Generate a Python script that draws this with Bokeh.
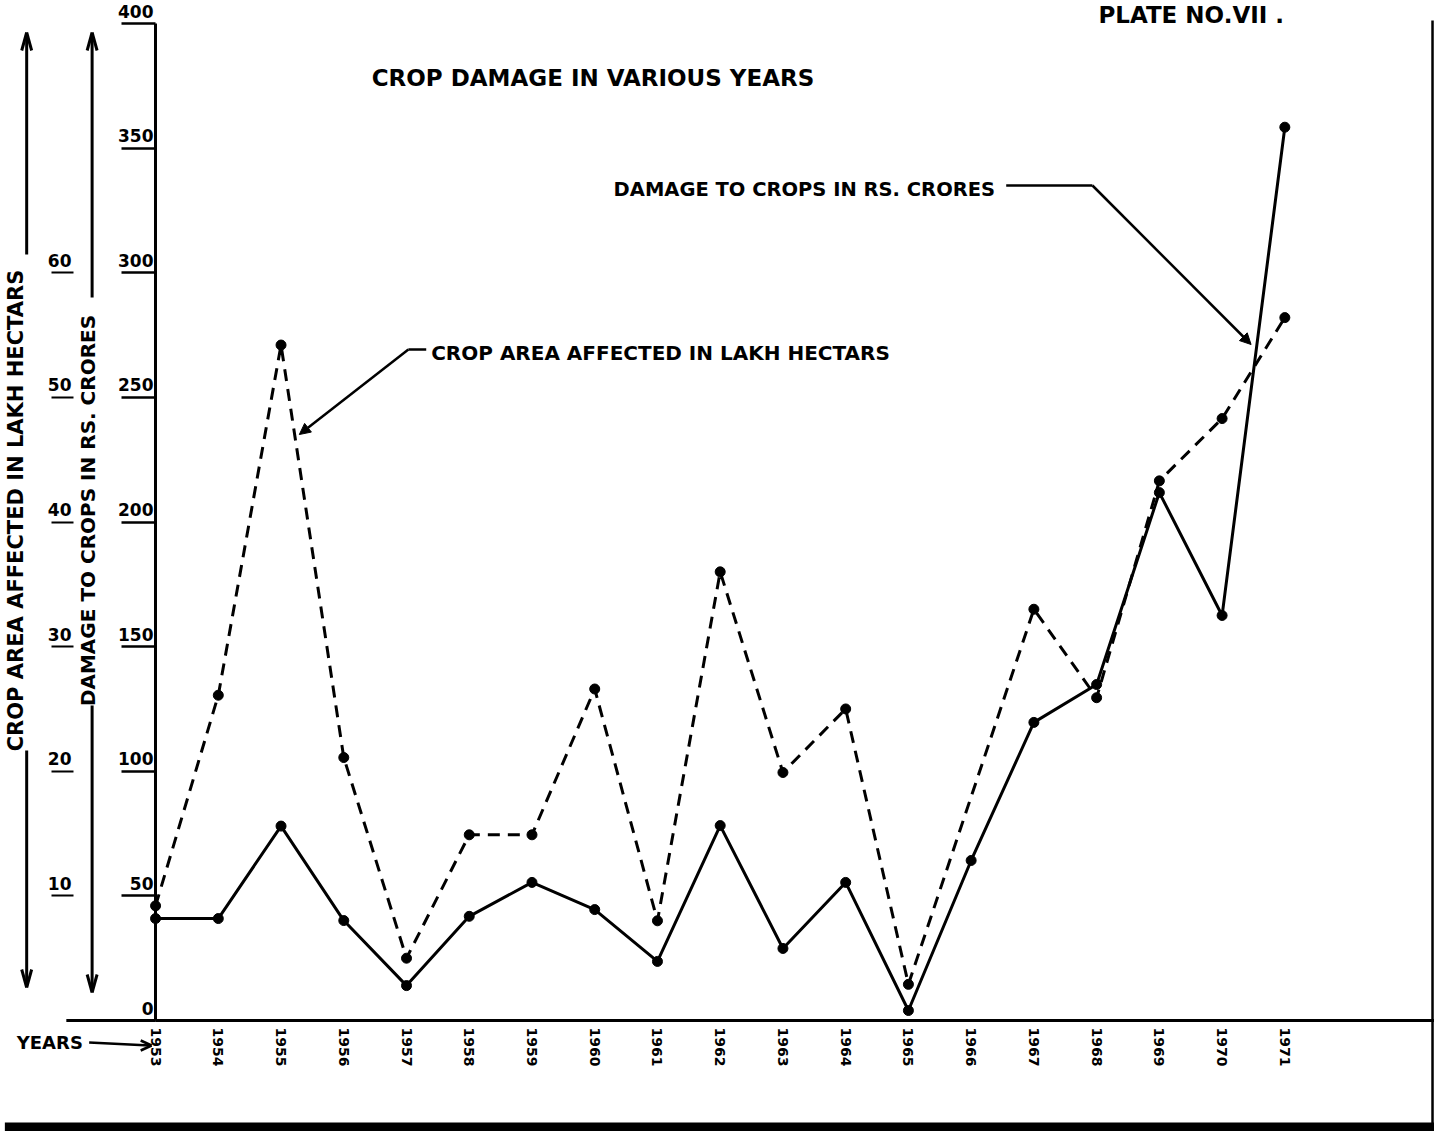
from bokeh.plotting import figure
from bokeh.models import (Range1d, LinearAxis, FixedTicker, Label, Arrow,
                          NormalHead, ColumnDataSource)
from bokeh.core.properties import value
from bokeh.embed import file_html
from bokeh.resources import INLINE

# ---------------- data ----------------
years = [1953, 1954, 1955, 1956, 1957, 1958, 1959, 1960, 1961, 1962,
         1963, 1964, 1965, 1966, 1967, 1968, 1969, 1970, 1971]
damage_crores = [40.9, 40.9, 78.0, 40.1, 14.0, 41.8, 55.4, 44.5, 23.7, 78.2,
                 28.9, 55.4, 4.0, 64.2, 119.6, 134.8, 211.8, 162.5, 358.4]
area_years = [1953, 1954, 1955, 1956, 1957, 1958, 1959, 1960, 1961, 1962,
              1963, 1964, 1965, 1967, 1968, 1969, 1970, 1971]
area_lakh_ha = [9.2, 26.1, 54.2, 21.1, 5.0, 14.9, 14.9, 26.6, 8.0, 36.0,
                19.9, 25.0, 2.9, 33.0, 25.9, 43.3, 48.3, 56.4]
damage_ticks = [0, 50, 100, 150, 200, 250, 300, 350, 400]
area_ticks = [10, 20, 30, 40, 50, 60]

title_text = "CROP DAMAGE IN VARIOUS YEARS"
plate_text = "PLATE NO.VII ."
damage_label = "DAMAGE TO CROPS IN RS. CRORES"
area_label = "CROP AREA AFFECTED IN LAKH HECTARS"
area_axis_title = "CROP AREA AFFECTED IN LAKH HECTARS"
damage_axis_title = "DAMAGE TO CROPS IN RS. CRORES"
years_label = "YEARS"

# ---------------- layout ----------------
W, H = 1434, 1131
BL, BB = 144, 111          # left / bottom panels
PX_YEAR = 63.28
PX_UNIT = 2.4925
X0 = 1953
frame_w = W - BL
frame_h = H - BB
FONT = "DejaVu Sans"

p = figure(width=W, height=H,
           x_range=Range1d(X0 - 0.001, X0 + frame_w / PX_YEAR),
           y_range=Range1d(0, frame_h / PX_UNIT),
           output_backend="svg", toolbar_location=None,
           x_axis_location=None, y_axis_location=None,
           min_border_left=BL, min_border_right=0, min_border_top=0,
           min_border_bottom=BB, outline_line_color=None,
           background_fill_color="white", border_fill_color="white")
p.grid.visible = False
p.extra_y_ranges = {"area": Range1d(0, frame_h / PX_UNIT / 5)}

# page-pixel -> data helpers for decorations (page = figure + 8px margin)
def dx(px):
    return X0 + (px - 152) / PX_YEAR

def dy(py):
    return (1028 - py) / PX_UNIT

# damage axis (closest to frame)
ax_d = LinearAxis(ticker=FixedTicker(ticks=damage_ticks), bounds=(0, 400),
                  axis_label=damage_axis_title)
ax_d.major_label_overrides = {t: f"{t}\n " for t in damage_ticks}
ax_d.axis_line_width = 3
ax_d.major_tick_out = 34
ax_d.major_tick_in = 0
ax_d.major_tick_line_width = 2.5
ax_d.minor_tick_line_color = None
ax_d.major_label_standoff = -32
ax_d.major_label_text_font = FONT
ax_d.major_label_text_font_style = "bold"
ax_d.major_label_text_font_size = "17px"
ax_d.major_label_text_color = "black"
ax_d.axis_label_standoff = 15
ax_d.axis_label_text_font = FONT
ax_d.axis_label_text_font_style = "bold"
ax_d.axis_label_text_font_size = "20px"
ax_d.axis_label_text_color = "black"
p.add_layout(ax_d, "left")

# lakh hectare axis
ax_a = LinearAxis(y_range_name="area", ticker=FixedTicker(ticks=area_ticks),
                  axis_label=area_axis_title)
ax_a.major_label_overrides = {t: f"{t}\n " for t in area_ticks}
ax_a.axis_line_color = None
ax_a.major_tick_out = 22
ax_a.major_tick_in = 0
ax_a.major_tick_line_width = 2
ax_a.minor_tick_line_color = None
ax_a.major_label_standoff = -20
ax_a.major_label_text_font = FONT
ax_a.major_label_text_font_style = "bold"
ax_a.major_label_text_font_size = "17px"
ax_a.major_label_text_color = "black"
ax_a.axis_label_standoff = 17
ax_a.axis_label_text_font = FONT
ax_a.axis_label_text_font_style = "bold"
ax_a.axis_label_text_font_size = "21px"
ax_a.axis_label_text_color = "black"
p.add_layout(ax_a, "left")

# years axis
ax_x = LinearAxis(ticker=FixedTicker(ticks=years))
ax_x.axis_line_width = 3
ax_x.major_tick_out = 0
ax_x.major_tick_in = 0
ax_x.minor_tick_line_color = None
ax_x.major_label_orientation = "vertical"
ax_x.major_label_standoff = 7
ax_x.major_label_text_font = FONT
ax_x.major_label_text_font_style = "bold"
ax_x.major_label_text_font_size = "14px"
ax_x.major_label_text_color = "black"
p.add_layout(ax_x, "below")

# ---------------- series ----------------
src_d = ColumnDataSource(dict(year=years, value=damage_crores))
src_a = ColumnDataSource(dict(year=area_years, value=area_lakh_ha))

p.line("year", "value", source=src_d, line_color="black", line_width=3)
r1 = p.scatter("year", "value", source=src_d, size=10, color="black")
p.line("year", "value", source=src_a, y_range_name="area", line_color="black",
       line_width=3, line_dash="12 8")
r2 = p.scatter("year", "value", source=src_a, y_range_name="area", size=10,
               color="black")
r1.level = "overlay"
r2.level = "overlay"

# ---------------- texts ----------------
def add_label(txt, px, py, size, align="left"):
    p.add_layout(Label(x=dx(px), y=dy(py), text=txt, text_font=FONT,
                       text_font_style="bold", text_font_size=size,
                       text_align=align, text_baseline="middle",
                       text_color="black"))

add_label(title_text, 370, 85, "23px")
add_label(plate_text, 1103, 22, "23px")
add_label(damage_label, 614, 197, "19.5px")
add_label(area_label, 430, 360, "20px")

# text outside the frame: glyph at overlay level (not clipped)
rt = p.text(x=[dx(12)], y=[dy(1050)], text=[years_label], text_font=value(FONT),
            text_font_style="bold", text_font_size="18px", text_align="left",
            text_baseline="middle", text_color="black")
rt.level = "overlay"

# ---------------- leader lines & arrows ----------------
def arrow(x0, y0, x1, y1, w=2.5, head=11):
    p.add_layout(Arrow(x_start=dx(x0), y_start=dy(y0), x_end=dx(x1), y_end=dy(y1),
                       line_width=w, line_color="black",
                       end=NormalHead(size=head, fill_color="black",
                                      line_color="black")))

def seg(x0, y0, x1, y1, w=2.5):
    r = p.segment(x0=[dx(x0)], y0=[dy(y0)], x1=[dx(x1)], y1=[dy(y1)],
                  line_color="black", line_width=w)
    r.level = "overlay"

def vee(tx, ty, ax, ay, bx, by, w=3):
    seg(ax, ay, tx, ty, w)
    seg(bx, by, tx, ty, w)

seg(1010, 193, 1097, 193)
arrow(1097, 193, 1257, 352)
seg(425, 357, 407, 357)
arrow(407, 357, 297, 442)

# title-column arrows (outside the frame)
seg(88, 42, 88, 305, 3)
vee(88, 40, 83, 58, 93, 58)
seg(88, 713, 88, 998, 3)
vee(88, 1000, 83, 982, 93, 982)
seg(22, 42, 22, 262, 3)
vee(22, 40, 17, 58, 27, 58)
seg(22, 758, 22, 993, 3)
vee(22, 995, 17, 977, 27, 977)

# YEARS pointer and axis extension
seg(85, 1050, 146, 1053, 2.5)
vee(148, 1053, 137, 1048, 137, 1058, 2.5)
seg(62, 1028, 152, 1028, 3)
# page frame lines
seg(1440, 28, 1440, 1131, 2.5)
seg(0, 1136, 1442, 1136, 12)

open("out.html", "w").write(file_html(p, INLINE))
